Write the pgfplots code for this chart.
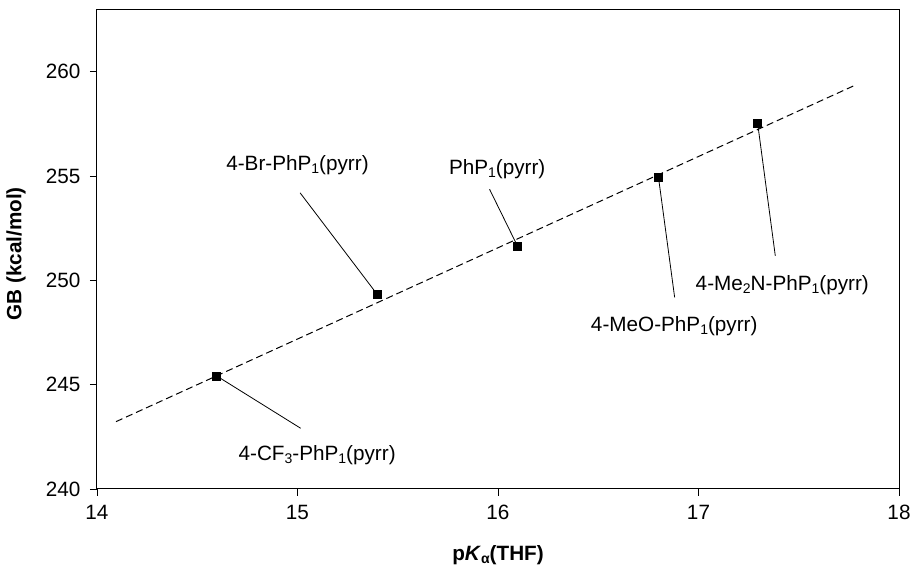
\documentclass[border=0pt]{standalone}
\usepackage{fontspec}
\setmainfont{Liberation Sans}
\usepackage{pgfplots}
\pgfplotsset{compat=1.18}
\newcommand{\fs}{\fontsize{20.7bp}{24bp}\selectfont}
\newcommand{\sub}[1]{\raisebox{-3.5bp}{\fontsize{14bp}{14bp}\selectfont #1}}
\begin{document}
\begin{tikzpicture}[font=\fs]
\begin{axis}[
  name=ax,
  scale only axis,
  width=802bp, height=479.7bp,
  xmin=14, xmax=18, ymin=240, ymax=263,
  xtick={14,15,16,17,18}, ytick={240,245,250,255,260},
  tick align=outside,
  major tick length=7bp,
  xtick pos=bottom, ytick pos=left,
  axis line style={line width=1bp, black},
  tick style={line width=0.8bp, black},
  /pgf/number format/assume math mode=true,
  ticklabel style={font=\fs},
  xticklabel style={yshift=-6bp},
  yticklabel style={xshift=-6bp},
  xlabel={\textbf{p\textit{K}\raisebox{-3bp}{\fontsize{14bp}{14bp}\selectfont α}(THF)}},
  ylabel={\textbf{GB (kcal/mol)}},
  xlabel style={font=\fs, at={(axis description cs:0.5,-0.137)}, anchor=center},
  ylabel style={font=\fs, at={(axis description cs:-0.101,0.49)}, anchor=center, rotate=0},
  clip=false,
]
% regression line
\addplot[black, line width=1bp, dash pattern=on 7bp off 4bp] coordinates {(14.095,243.23) (17.79,259.40)};
% leader lines
\draw[black, line width=0.8bp] (axis cs:15.013,254.20) -- (axis cs:15.396,249.35);
\draw[black, line width=0.8bp] (axis cs:15.958,254.37) -- (axis cs:16.097,251.65);
\draw[black, line width=0.8bp] (axis cs:16.881,249.19) -- (axis cs:16.80,254.97);
\draw[black, line width=0.8bp] (axis cs:17.383,251.18) -- (axis cs:17.295,257.53);
\draw[black, line width=0.8bp] (axis cs:15.016,242.91) -- (axis cs:14.597,245.42);
% data points
\addplot[only marks, mark=square*, mark size=4bp, black] coordinates {
  (14.597,245.42) (15.396,249.35) (16.097,251.65) (16.80,254.97) (17.295,257.53)};
% labels
\node at (axis cs:15.0,255.53) {4-Br-PhP\sub{1}(pyrr)};
\node at (axis cs:15.996,255.34) {PhP\sub{1}(pyrr)};
\node at (axis cs:16.879,247.83) {4-MeO-PhP\sub{1}(pyrr)};
\node at (axis cs:17.418,249.78) {4-Me\sub{2}N-PhP\sub{1}(pyrr)};
\node at (axis cs:15.098,241.63) {4-CF\sub{3}-PhP\sub{1}(pyrr)};
\end{axis}
\path ([xshift=-97bp,yshift=-78bp]ax.south west) rectangle ([xshift=15bp,yshift=9.3bp]ax.north east);
\end{tikzpicture}
\end{document}
